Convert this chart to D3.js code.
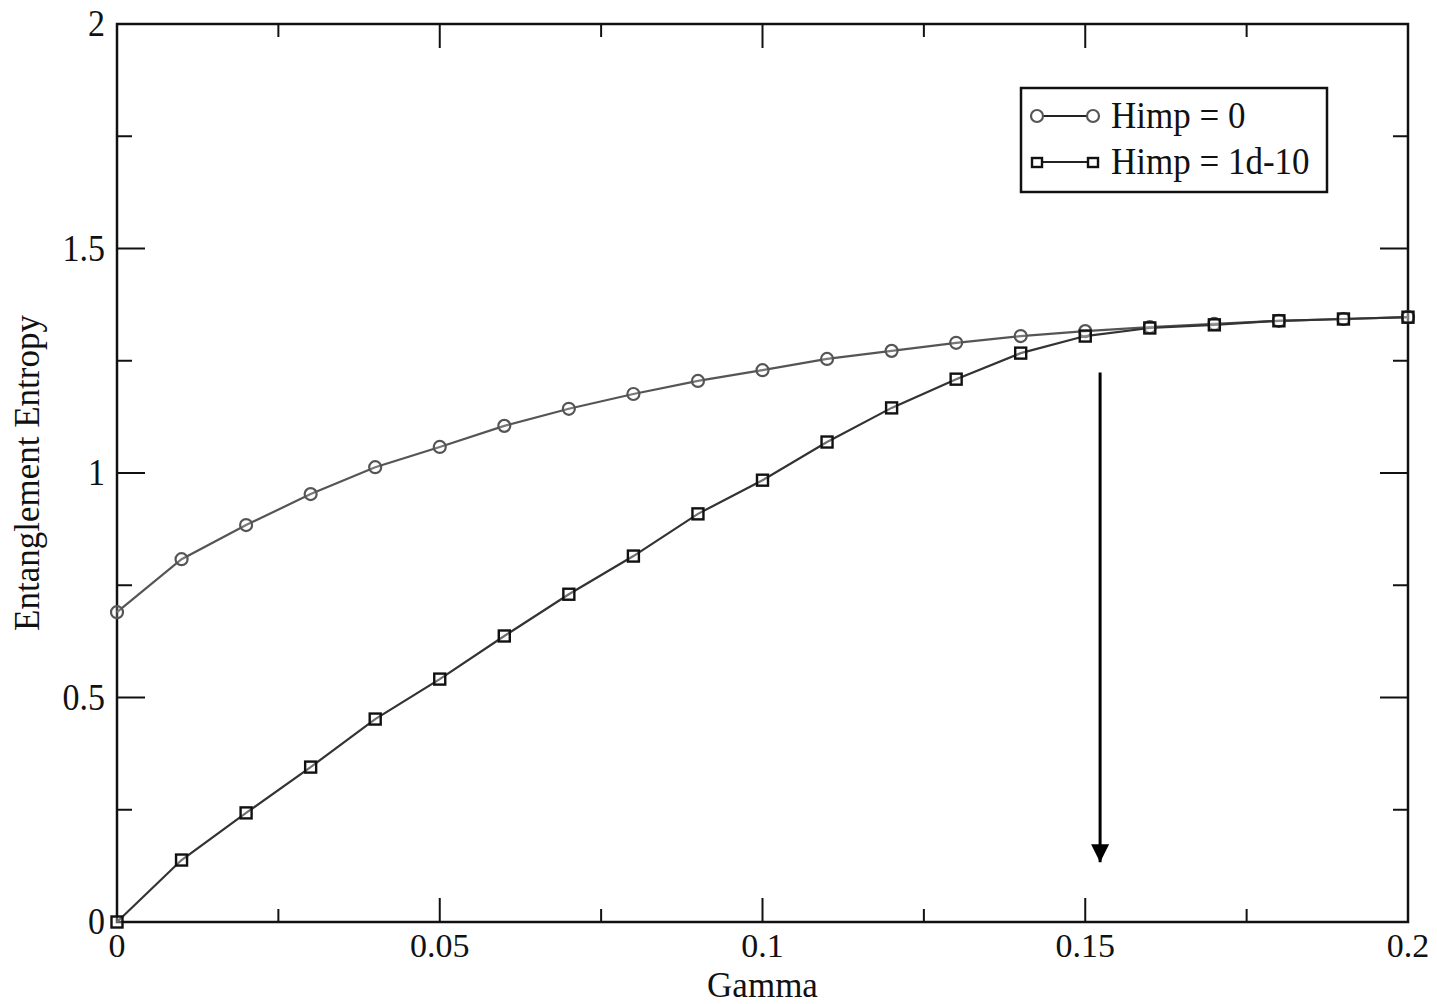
<!DOCTYPE html>
<html>
<head>
<meta charset="utf-8">
<script src="https://cdn.jsdelivr.net/npm/d3@7"></script>
<style>
body { margin: 0; background: #fff; }
text { font-family: "Liberation Serif", "DejaVu Serif", serif; fill: #111; }
</style>
</head>
<body>
<svg width="1437" height="1004"></svg>
<script>
const svg = d3.select("svg")
const W = +svg.attr("width"), H = +svg.attr("height")
const margin = {top:24, right:29, bottom:82, left:117}
const width = W - margin.left - margin.right
const height = H - margin.top - margin.bottom

// data
const gamma = [0,0.01,0.02,0.03,0.04,0.05,0.06,0.07,0.08,0.09,0.10,0.11,0.12,0.13,0.14,0.15,0.16,0.17,0.18,0.19,0.20]
const himp0 = [0.690,0.808,0.884,0.953,1.013,1.058,1.105,1.143,1.176,1.205,1.229,1.254,1.272,1.290,1.305,1.316,1.325,1.332,1.339,1.343,1.347]
const himp1d10 = [0,0.138,0.243,0.345,0.452,0.541,0.637,0.730,0.815,0.909,0.984,1.069,1.145,1.209,1.267,1.305,1.323,1.330,1.339,1.343,1.347]
const xTicks = [0,0.05,0.1,0.15,0.2]
const yTicks = [0,0.5,1,1.5,2]
const xMinor = [0.025,0.075,0.125,0.175]
const yMinor = [0.25,0.75,1.25,1.75]
const arrowX = 0.1523, arrowFrom = 1.224, arrowTo = 0.133

const x = d3.scaleLinear().domain([0,0.2]).range([0,width])
const y = d3.scaleLinear().domain([0,2]).range([height,0])

const g = svg.append("g").attr("transform", `translate(${margin.left},${margin.top})`)

// ticks on all four sides, pointing inward
const tk = g.append("g").attr("stroke", "#111").attr("stroke-width", 2)
xTicks.forEach(v => {
    tk.append("line").attr("x1", x(v)).attr("x2", x(v)).attr("y1", height).attr("y2", height-24)
    tk.append("line").attr("x1", x(v)).attr("x2", x(v)).attr("y1", 0).attr("y2", 24)
})
xMinor.forEach(v => {
    tk.append("line").attr("x1", x(v)).attr("x2", x(v)).attr("y1", height).attr("y2", height-13)
    tk.append("line").attr("x1", x(v)).attr("x2", x(v)).attr("y1", 0).attr("y2", 13)
})
yTicks.forEach(v => {
    tk.append("line").attr("y1", y(v)).attr("y2", y(v)).attr("x1", 0).attr("x2", 28)
    tk.append("line").attr("y1", y(v)).attr("y2", y(v)).attr("x1", width).attr("x2", width-28)
})
yMinor.forEach(v => {
    tk.append("line").attr("y1", y(v)).attr("y2", y(v)).attr("x1", 0).attr("x2", 15)
    tk.append("line").attr("y1", y(v)).attr("y2", y(v)).attr("x1", width).attr("x2", width-15)
})

g.append("rect").attr("width", width).attr("height", height)
    .attr("fill", "none").attr("stroke", "#111").attr("stroke-width", 2.5)

// tick labels
g.selectAll(".xl").data(xTicks).enter().append("text")
    .attr("x", d=>x(d)).attr("y", height+35)
    .attr("text-anchor", "middle").style("font-size", "34px")
    .text(d=>d3.format("")(d))
g.selectAll(".yl").data(yTicks).enter().append("text")
    .attr("transform", d=>`translate(-12,${y(d)+12}) scale(1,1.12)`)
    .attr("text-anchor", "end").style("font-size", "34px")
    .text(d=>d3.format("")(d))

// axis titles
g.append("text").attr("x", width/2).attr("y", height+75)
    .attr("text-anchor", "middle").style("font-size", "35px").text("Gamma")
g.append("text").attr("transform", `translate(${-78},${y(1.0)}) rotate(-90)`)
    .attr("text-anchor", "middle").style("font-size", "35px").text("Entanglement Entropy")

const line = d3.line().x(d=>x(d[0])).y(d=>y(d[1]))
const s0 = gamma.map((v,i)=>[v, himp0[i]])
const s1 = gamma.map((v,i)=>[v, himp1d10[i]])

g.append("path").datum(s0).attr("d", line)
    .attr("fill", "none").attr("stroke", "#555").attr("stroke-width", 2.2)
g.append("path").datum(s1).attr("d", line)
    .attr("fill", "none").attr("stroke", "#333").attr("stroke-width", 2.2)

g.selectAll(".c0").data(s0).enter().append("circle")
    .attr("cx", d=>x(d[0])).attr("cy", d=>y(d[1])).attr("r", 6)
    .attr("fill", "#fff").attr("fill-opacity", 0.2).attr("stroke", "#555").attr("stroke-width", 2.2)
g.selectAll(".s1").data(s1).enter().append("rect")
    .attr("x", d=>x(d[0])-5.5).attr("y", d=>y(d[1])-5.5).attr("width", 11).attr("height", 11)
    .attr("fill", "#fff").attr("fill-opacity", 0.3).attr("stroke", "#111").attr("stroke-width", 2.4)

// arrow annotation
svg.append("defs").append("marker").attr("id", "ah")
    .attr("viewBox", "0 0 10 10").attr("refX", 10).attr("refY", 5)
    .attr("markerWidth", 6).attr("markerHeight", 6).attr("markerUnits", "strokeWidth")
    .attr("orient", "auto")
  .append("path").attr("d", "M0,0 L10,5 L0,10 Z").attr("fill", "#000")
g.append("line").attr("x1", x(arrowX)).attr("x2", x(arrowX))
    .attr("y1", y(arrowFrom)).attr("y2", y(arrowTo))
    .attr("stroke", "#000").attr("stroke-width", 3).attr("marker-end", "url(#ah)")

// legend
const lg = svg.append("g").attr("transform", "translate(1021,88)")
lg.append("rect").attr("width", 306).attr("height", 104)
    .attr("fill", "#fff").attr("stroke", "#111").attr("stroke-width", 2.5)
const items = [{label:"Himp = 0", kind:"c"}, {label:"Himp = 1d-10", kind:"s"}]
items.forEach((it,i) => {
    const yy = 28 + i*46
    lg.append("line").attr("x1", 16).attr("x2", 72).attr("y1", yy).attr("y2", yy)
        .attr("stroke", "#222").attr("stroke-width", 2)
    ;[16,72].forEach(xx => {
        if (it.kind === "c") {
            lg.append("circle").attr("cx", xx).attr("cy", yy).attr("r", 6)
                .attr("fill", "#fff").attr("stroke", "#555").attr("stroke-width", 2.2)
        } else {
            lg.append("rect").attr("x", xx-5).attr("y", yy-4).attr("width", 10).attr("height", 9)
                .attr("fill", "#fff").attr("stroke", "#111").attr("stroke-width", 2.4)
        }
    })
    lg.append("text").attr("transform", `translate(90,${yy+12}) scale(1,1.1)`)
        .style("font-size", "35px").text(it.label)
})
</script>
</body>
</html>
